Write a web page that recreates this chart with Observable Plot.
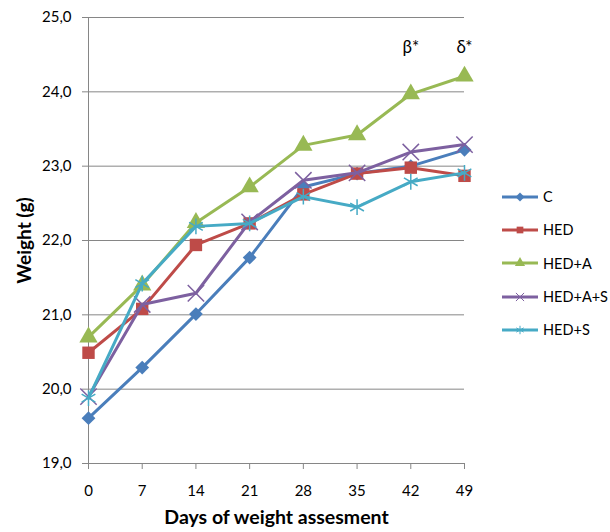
<!DOCTYPE html>
<html>
<head>
<meta charset="utf-8">
<script src="https://cdn.jsdelivr.net/npm/d3@7"></script>
<script src="https://cdn.jsdelivr.net/npm/@observablehq/plot@0.6"></script>
<style>
  body { margin: 0; background: #fff; font-family: Lato, "Liberation Sans", sans-serif; }
  #wrap { position: relative; width: 610px; height: 532px; }
  #legend { position: absolute; left: 500px; top: 180px; font-size: 14.5px; color: #000; white-space: nowrap; }
  .li { display: flex; align-items: center; height: 33.3px; }
  .li svg { margin-right: 3px; }
</style>
</head>
<body>
<div id="wrap"></div>
<script>
const days = [0, 7, 14, 21, 28, 35, 42, 49];
const seriesNames = ["C", "HED", "HED+A", "HED+A+S", "HED+S"];
const C        = [19.61, 20.29, 21.01, 21.77, 22.72, 22.90, 23.00, 23.22];
const HED      = [20.49, 21.08, 21.94, 22.23, 22.62, 22.90, 22.98, 22.87];
const HED_A    = [20.70, 21.40, 22.24, 22.72, 23.28, 23.42, 23.97, 24.21];
const HED_A_S  = [19.90, 21.14, 21.29, 22.25, 22.81, 22.91, 23.19, 23.29];
const HED_S    = [19.88, 21.42, 22.19, 22.23, 22.59, 22.45, 22.79, 22.91];
const yTicks = [19, 20, 21, 22, 23, 24, 25];
const annotDays = [42, 49];
const annotLabels = ["β*", "δ*"];

const colors = ["#4A7EBB", "#BE4B48", "#98B954", "#7D60A0", "#46AAC5"];
// square-proportioned diamond symbol (like Excel's marker)
const squareDiamond = {
  draw(context, size) {
    const r = Math.sqrt(size / 2);
    context.moveTo(0, -r); context.lineTo(r, 0); context.lineTo(0, r); context.lineTo(-r, 0); context.closePath();
  }
};
const symbols = [squareDiamond, d3.symbolSquare, d3.symbolTriangle, d3.symbolTimes, d3.symbolAsterisk];
const symbolSizes = [5.5, 7, 6.8, 7.5, 7.5];
const legendSizes = [40, 45, 45, 45, 50];
const filled = [true, true, true, false, false];

const seriesValues = [C, HED, HED_A, HED_A_S, HED_S];
const rows = [];
seriesNames.forEach((s, i) => days.forEach((d, j) => rows.push({series: s, idx: i, day: d, w: seriesValues[i][j]})));

const marks = [
  Plot.ruleY(yTicks, {y: d => d, stroke: "#868686", strokeWidth: 1}),
  Plot.axisY({ticks: yTicks, tickFormat: d => d.toFixed(1).replace(".", ","), tickSize: 6, tickPadding: 11, fontSize: 15, label: null, stroke: "#868686", color: "#000"}),
  Plot.axisX({ticks: days, tickSize: 6, tickPadding: 16, fontSize: 15, label: null, stroke: "#868686"}),
  Plot.ruleX([0], {stroke: "#868686"}),
  Plot.ruleY([19], {stroke: "#868686"})
];
seriesNames.forEach((s, i) => {
  const data = rows.filter(r => r.idx === i);
  marks.push(Plot.line(data, {x: "day", y: "w", stroke: colors[i], strokeWidth: 3}));
  marks.push(Plot.dot(data, {
    x: "day", y: "w", symbol: () => symbols[i], r: symbolSizes[i],
    fill: filled[i] ? colors[i] : "none", stroke: colors[i], strokeWidth: filled[i] ? 0 : 1.5
  }));
});
marks.push(Plot.text(annotLabels, {x: (d, i) => annotDays[i], frameAnchor: "top", dy: 23, fontSize: 17, fill: "#000", text: d => d}));
marks.push(Plot.text(["Weight (g)"], {frameAnchor: "left", dx: -64, rotate: -90, textAnchor: "middle", fontSize: 19, fontWeight: "bold", fill: "#000", text: d => d}));
marks.push(Plot.text(["Days of weight assesment"], {frameAnchor: "bottom", dy: 60, fontSize: 19.5, fontWeight: "bold", fill: "#000", text: d => d}));

const chart = Plot.plot({
  width: 610, height: 532,
  marginLeft: 88, marginRight: 146, marginTop: 17, marginBottom: 69,
  style: {fontFamily: "Lato, 'Liberation Sans', sans-serif", background: "#fff"},
  x: {type: "linear", domain: [0, 49]},
  y: {domain: [19, 25]},
  symbol: {type: "identity"},
  marks
});
document.getElementById("wrap").appendChild(chart);

const legend = document.createElement("div");
legend.id = "legend";
seriesNames.forEach((s, i) => {
  const row = document.createElement("div");
  row.className = "li";
  const sym = d3.symbol(symbols[i], legendSizes[i])();
  row.innerHTML = `<svg width="40" height="12"><line x1="2" x2="38" y1="6" y2="6" stroke="${colors[i]}" stroke-width="3"/><path transform="translate(20,6)" d="${sym}" fill="${filled[i] ? colors[i] : "none"}" stroke="${filled[i] ? "none" : colors[i]}" stroke-width="1"/></svg><span>${s}</span>`;
  legend.appendChild(row);
});
document.getElementById("wrap").appendChild(legend);
</script>
</body>
</html>
